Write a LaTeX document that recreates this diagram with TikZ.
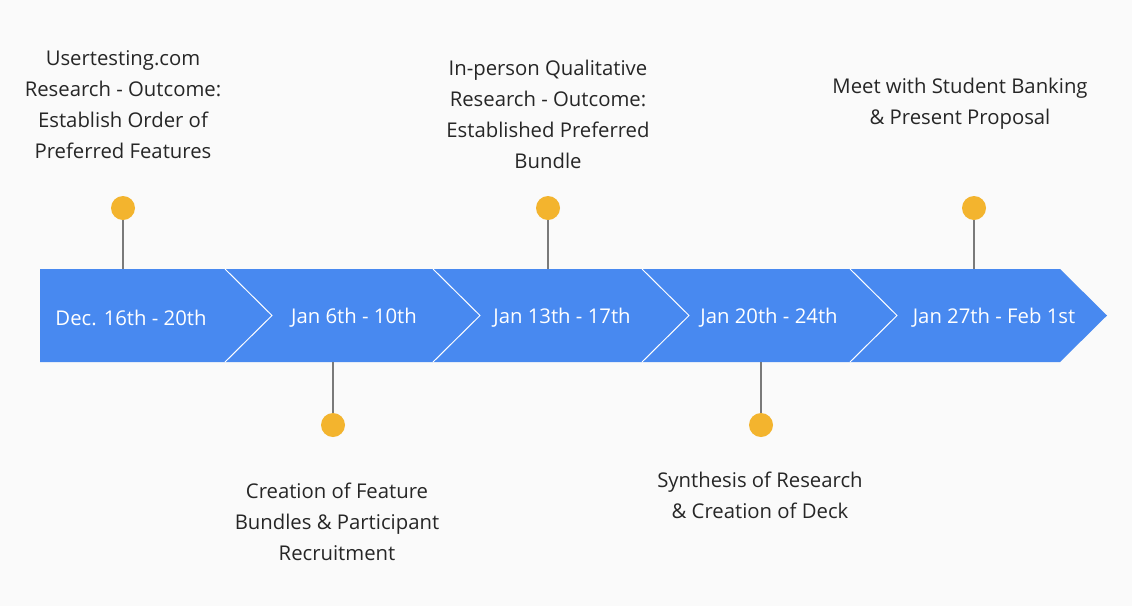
\documentclass[tikz,border=0pt]{standalone}
\usepackage{fontspec}
\setmainfont{Open Sans}
\usetikzlibrary{positioning}
\definecolor{bandblue}{HTML}{4889F0}
\definecolor{dotyellow}{HTML}{F3B42E}
\definecolor{stemgray}{HTML}{7A7A7A}
\definecolor{bggray}{HTML}{FAFAFA}
\tikzset{
    dot/.style={
        circle,
        fill=dotyellow,
        minimum size=24pt,
        inner sep=0pt,
    },
    event/.style={
        align=center,
        font=\fontsize{20.3}{31}\selectfont,
        text=black!85,
    },
    period/.style={
        font=\fontsize{20.3}{23}\selectfont,
        text=white,
    },
    stem/.style={
        stemgray,
        line width=1.5pt,
    },
}
\begin{document}
\begin{tikzpicture}[x=1pt,y=-1pt]
	    \fill [bggray] (0,0) rectangle (1132,606);
	    \useasboundingbox (0,0) rectangle (1132,606);
	    % band
	    \fill [bandblue] (40,269) -- (1060,269) -- (1107,315.5) -- (1060,362) -- (40,362) -- cycle;
	    \foreach \x in {225,433,642,850}
	    	\draw [white, line width=1pt] (\x,269) -- (\x+47,315.5) -- (\x,362);
	    \node [period] (p1) at (131,317.5) {Dec. 16th - 20th};
	    \node [period] (p2) at (354,317.5) {Jan 6th - 10th};
	    \node [period] (p3) at (562,317.5) {Jan 13th - 17th};
	    \node [period] (p4) at (769,317.5) {Jan 20th - 24th};
	    \node [period] (p5) at (994,317.5) {Jan 27th - Feb 1st};
	    % stems
	    \coordinate (b1) at (123,269);
	    \coordinate (b2) at (333,362);
	    \coordinate (b3) at (548,269);
	    \coordinate (b4) at (761,362);
	    \coordinate (b5) at (974,269);
	    \node [dot] (d1) at (123,208) {};
	    \node [dot] (d2) at (333,425) {};
	    \node [dot] (d3) at (548,208) {};
	    \node [dot] (d4) at (761,425) {};
	    \node [dot] (d5) at (974,208) {};
	    \foreach \i in {1,...,5}
	    	\draw [stem] (d\i) -- (b\i);
	    % events
	    \node [event] (e1) at (123,105) {Usertesting.com\\Research - Outcome:\\Establish Order of\\Preferred Features};
	    \node [event] (e2) at (337,522) {Creation of Feature\\Bundles \& Participant\\Recruitment};
	    \node [event] (e3) at (548,114) {In-person Qualitative\\Research - Outcome:\\Established Preferred\\Bundle};
	    \node [event] (e4) at (760,495) {Synthesis of Research\\\& Creation of Deck};
	    \node [event] (e5) at (960,104) {Meet with Student Banking\\\& Present Proposal};
\end{tikzpicture}
\end{document}
